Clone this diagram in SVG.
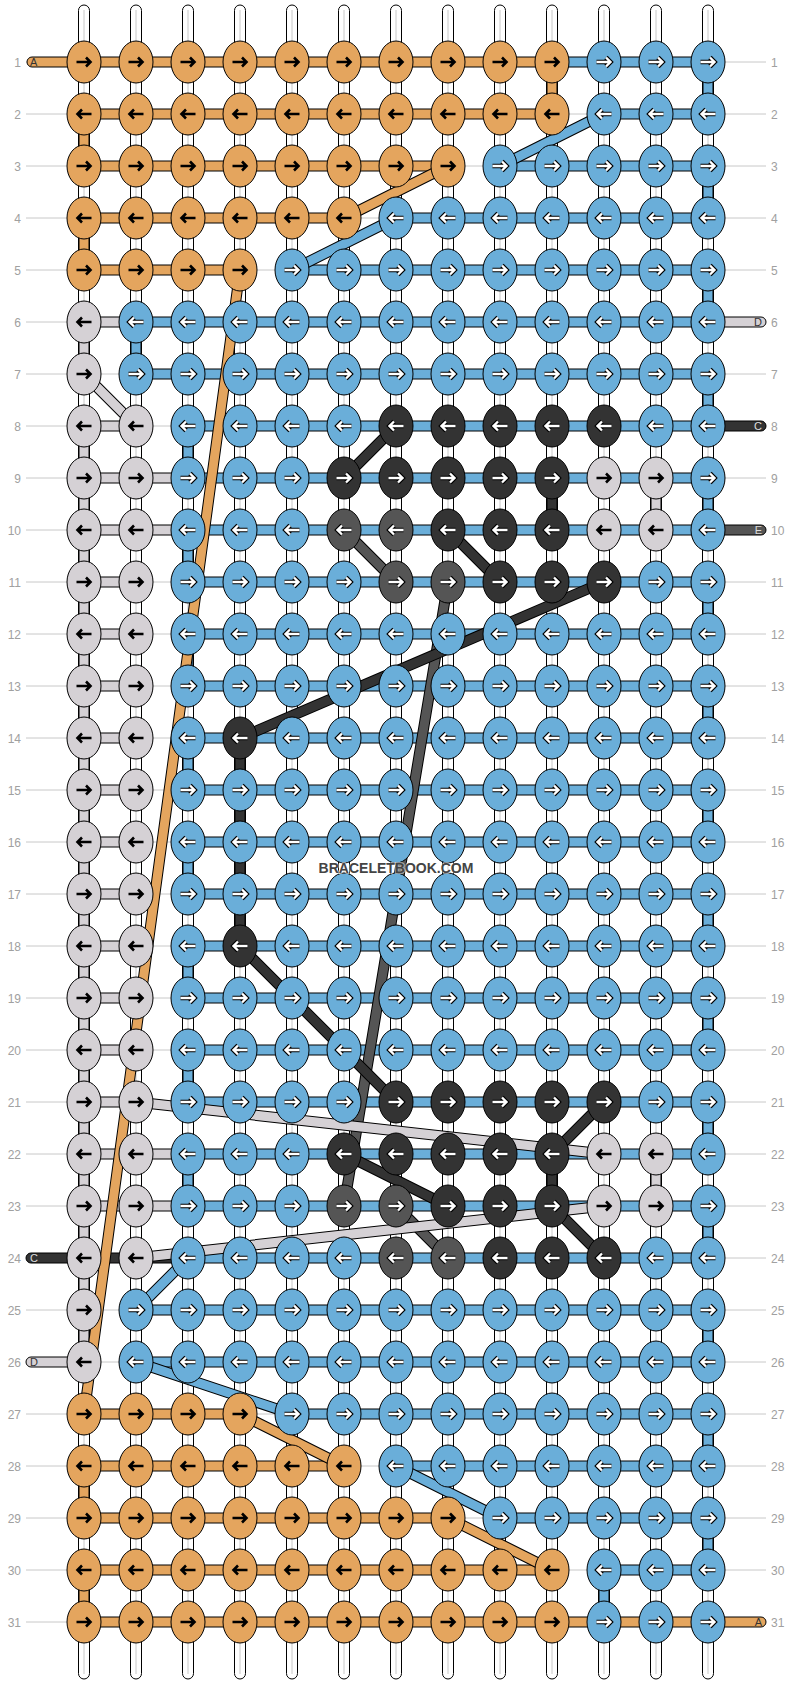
<svg xmlns="http://www.w3.org/2000/svg" xmlns:xlink="http://www.w3.org/1999/xlink" width="792" height="1684" viewBox="0 0 792 1684">
<style>
.w{fill:#fff;stroke:#000;stroke-width:1}
.wl{stroke:#c8c8c8;stroke-width:1}
.gl{stroke:#c8c8c8;stroke-width:1}
.lb{font-family:"Liberation Sans",Arial,sans-serif;font-size:12px;fill:#a0a0a0}
.sl{font-family:"Liberation Sans",Arial,sans-serif;font-size:11px}
.o{fill:#E4A55E}.b{fill:#6AAED9}.g{fill:#D5D1D5}.d{fill:#333}.m{fill:#555}
.s{stroke:#000;stroke-width:1}
.k{stroke:#000;stroke-width:11;fill:none}
.lo{stroke:#E4A55E;stroke-width:9;fill:none}.lbl{stroke:#6AAED9;stroke-width:9;fill:none}
.lg{stroke:#D5D1D5;stroke-width:9;fill:none}.ld{stroke:#333;stroke-width:9;fill:none}.lm{stroke:#555;stroke-width:9;fill:none}
</style>
<defs>
<path id="aR" d="M-7.5 0H6.5M2-4.5L6.5 0L2 4.5" fill="none"/>
<path id="aL" d="M7.5 0H-6.5M-2-4.5L-6.5 0L-2 4.5" fill="none"/>
<g id="kR"><use href="#aR" stroke="#000" stroke-width="2.6"/></g>
<g id="kL"><use href="#aL" stroke="#000" stroke-width="2.6"/></g>
<g id="wR"><use href="#aR" stroke="#000" stroke-width="4.6"/><use href="#aR" stroke="#fff" stroke-width="2.4"/></g>
<g id="wL"><use href="#aL" stroke="#000" stroke-width="4.6"/><use href="#aL" stroke="#fff" stroke-width="2.4"/></g>
<g id="oR"><ellipse rx="17" ry="21" class="o s"/><use href="#kR"/></g>
<g id="oL"><ellipse rx="17" ry="21" class="o s"/><use href="#kL"/></g>
<g id="gR"><ellipse rx="17" ry="21" class="g s"/><use href="#kR"/></g>
<g id="gL"><ellipse rx="17" ry="21" class="g s"/><use href="#kL"/></g>
<g id="bR"><ellipse rx="17" ry="21" class="b s"/><use href="#wR"/></g>
<g id="bL"><ellipse rx="17" ry="21" class="b s"/><use href="#wL"/></g>
<g id="dR"><ellipse rx="17" ry="21" class="d s"/><use href="#wR"/></g>
<g id="dL"><ellipse rx="17" ry="21" class="d s"/><use href="#wL"/></g>
<g id="mR"><ellipse rx="17" ry="21" class="m s"/><use href="#wR"/></g>
<g id="mL"><ellipse rx="17" ry="21" class="m s"/><use href="#wL"/></g>
</defs>
<rect width="792" height="1684" fill="#fff"/>
<g id="guides">
<line class="gl" x1="26" y1="62" x2="766" y2="62"/><line class="gl" x1="26" y1="114" x2="766" y2="114"/><line class="gl" x1="26" y1="166" x2="766" y2="166"/><line class="gl" x1="26" y1="218" x2="766" y2="218"/><line class="gl" x1="26" y1="270" x2="766" y2="270"/><line class="gl" x1="26" y1="322" x2="766" y2="322"/><line class="gl" x1="26" y1="374" x2="766" y2="374"/><line class="gl" x1="26" y1="426" x2="766" y2="426"/><line class="gl" x1="26" y1="478" x2="766" y2="478"/><line class="gl" x1="26" y1="530" x2="766" y2="530"/><line class="gl" x1="26" y1="582" x2="766" y2="582"/><line class="gl" x1="26" y1="634" x2="766" y2="634"/><line class="gl" x1="26" y1="686" x2="766" y2="686"/><line class="gl" x1="26" y1="738" x2="766" y2="738"/><line class="gl" x1="26" y1="790" x2="766" y2="790"/><line class="gl" x1="26" y1="842" x2="766" y2="842"/><line class="gl" x1="26" y1="894" x2="766" y2="894"/><line class="gl" x1="26" y1="946" x2="766" y2="946"/><line class="gl" x1="26" y1="998" x2="766" y2="998"/><line class="gl" x1="26" y1="1050" x2="766" y2="1050"/><line class="gl" x1="26" y1="1102" x2="766" y2="1102"/><line class="gl" x1="26" y1="1154" x2="766" y2="1154"/><line class="gl" x1="26" y1="1206" x2="766" y2="1206"/><line class="gl" x1="26" y1="1258" x2="766" y2="1258"/><line class="gl" x1="26" y1="1310" x2="766" y2="1310"/><line class="gl" x1="26" y1="1362" x2="766" y2="1362"/><line class="gl" x1="26" y1="1414" x2="766" y2="1414"/><line class="gl" x1="26" y1="1466" x2="766" y2="1466"/><line class="gl" x1="26" y1="1518" x2="766" y2="1518"/><line class="gl" x1="26" y1="1570" x2="766" y2="1570"/><line class="gl" x1="26" y1="1622" x2="766" y2="1622"/>
</g>
<g id="labels">
<text class="lb" text-anchor="end" x="21" y="66.5">1</text><text class="lb" text-anchor="end" x="21" y="118.5">2</text><text class="lb" text-anchor="end" x="21" y="170.5">3</text><text class="lb" text-anchor="end" x="21" y="222.5">4</text><text class="lb" text-anchor="end" x="21" y="274.5">5</text><text class="lb" text-anchor="end" x="21" y="326.5">6</text><text class="lb" text-anchor="end" x="21" y="378.5">7</text><text class="lb" text-anchor="end" x="21" y="430.5">8</text><text class="lb" text-anchor="end" x="21" y="482.5">9</text><text class="lb" text-anchor="end" x="21" y="534.5">10</text><text class="lb" text-anchor="end" x="21" y="586.5">11</text><text class="lb" text-anchor="end" x="21" y="638.5">12</text><text class="lb" text-anchor="end" x="21" y="690.5">13</text><text class="lb" text-anchor="end" x="21" y="742.5">14</text><text class="lb" text-anchor="end" x="21" y="794.5">15</text><text class="lb" text-anchor="end" x="21" y="846.5">16</text><text class="lb" text-anchor="end" x="21" y="898.5">17</text><text class="lb" text-anchor="end" x="21" y="950.5">18</text><text class="lb" text-anchor="end" x="21" y="1002.5">19</text><text class="lb" text-anchor="end" x="21" y="1054.5">20</text><text class="lb" text-anchor="end" x="21" y="1106.5">21</text><text class="lb" text-anchor="end" x="21" y="1158.5">22</text><text class="lb" text-anchor="end" x="21" y="1210.5">23</text><text class="lb" text-anchor="end" x="21" y="1262.5">24</text><text class="lb" text-anchor="end" x="21" y="1314.5">25</text><text class="lb" text-anchor="end" x="21" y="1366.5">26</text><text class="lb" text-anchor="end" x="21" y="1418.5">27</text><text class="lb" text-anchor="end" x="21" y="1470.5">28</text><text class="lb" text-anchor="end" x="21" y="1522.5">29</text><text class="lb" text-anchor="end" x="21" y="1574.5">30</text><text class="lb" text-anchor="end" x="21" y="1626.5">31</text>
<text class="lb" x="771" y="66.5">1</text><text class="lb" x="771" y="118.5">2</text><text class="lb" x="771" y="170.5">3</text><text class="lb" x="771" y="222.5">4</text><text class="lb" x="771" y="274.5">5</text><text class="lb" x="771" y="326.5">6</text><text class="lb" x="771" y="378.5">7</text><text class="lb" x="771" y="430.5">8</text><text class="lb" x="771" y="482.5">9</text><text class="lb" x="771" y="534.5">10</text><text class="lb" x="771" y="586.5">11</text><text class="lb" x="771" y="638.5">12</text><text class="lb" x="771" y="690.5">13</text><text class="lb" x="771" y="742.5">14</text><text class="lb" x="771" y="794.5">15</text><text class="lb" x="771" y="846.5">16</text><text class="lb" x="771" y="898.5">17</text><text class="lb" x="771" y="950.5">18</text><text class="lb" x="771" y="1002.5">19</text><text class="lb" x="771" y="1054.5">20</text><text class="lb" x="771" y="1106.5">21</text><text class="lb" x="771" y="1158.5">22</text><text class="lb" x="771" y="1210.5">23</text><text class="lb" x="771" y="1262.5">24</text><text class="lb" x="771" y="1314.5">25</text><text class="lb" x="771" y="1366.5">26</text><text class="lb" x="771" y="1418.5">27</text><text class="lb" x="771" y="1470.5">28</text><text class="lb" x="771" y="1522.5">29</text><text class="lb" x="771" y="1574.5">30</text><text class="lb" x="771" y="1626.5">31</text>
</g>
<g id="warps">
<rect class="w" x="78.5" y="5" width="11" height="1674" rx="5.5"/><line class="wl" x1="84" y1="10" x2="84" y2="1674"/>
<rect class="w" x="130.5" y="5" width="11" height="1674" rx="5.5"/><line class="wl" x1="136" y1="10" x2="136" y2="1674"/>
<rect class="w" x="182.5" y="5" width="11" height="1674" rx="5.5"/><line class="wl" x1="188" y1="10" x2="188" y2="1674"/>
<rect class="w" x="234.5" y="5" width="11" height="1674" rx="5.5"/><line class="wl" x1="240" y1="10" x2="240" y2="1674"/>
<rect class="w" x="286.5" y="5" width="11" height="1674" rx="5.5"/><line class="wl" x1="292" y1="10" x2="292" y2="1674"/>
<rect class="w" x="338.5" y="5" width="11" height="1674" rx="5.5"/><line class="wl" x1="344" y1="10" x2="344" y2="1674"/>
<rect class="w" x="390.5" y="5" width="11" height="1674" rx="5.5"/><line class="wl" x1="396" y1="10" x2="396" y2="1674"/>
<rect class="w" x="442.5" y="5" width="11" height="1674" rx="5.5"/><line class="wl" x1="448" y1="10" x2="448" y2="1674"/>
<rect class="w" x="494.5" y="5" width="11" height="1674" rx="5.5"/><line class="wl" x1="500" y1="10" x2="500" y2="1674"/>
<rect class="w" x="546.5" y="5" width="11" height="1674" rx="5.5"/><line class="wl" x1="552" y1="10" x2="552" y2="1674"/>
<rect class="w" x="598.5" y="5" width="11" height="1674" rx="5.5"/><line class="wl" x1="604" y1="10" x2="604" y2="1674"/>
<rect class="w" x="650.5" y="5" width="11" height="1674" rx="5.5"/><line class="wl" x1="656" y1="10" x2="656" y2="1674"/>
<rect class="w" x="702.5" y="5" width="11" height="1674" rx="5.5"/><line class="wl" x1="708" y1="10" x2="708" y2="1674"/>
</g>
<g id="connectors">
<g id="verticals">
<rect class="o s" x="79" y="114" width="10" height="52"/><rect class="o s" x="79" y="218" width="10" height="52"/><rect class="o s" x="79" y="1466" width="10" height="52"/><rect class="o s" x="79" y="1570" width="10" height="52"/><rect class="o s" x="547" y="62" width="10" height="52"/>
<rect class="b s" x="703" y="62" width="10" height="52"/><rect class="b s" x="703" y="166" width="10" height="52"/><rect class="b s" x="703" y="270" width="10" height="52"/><rect class="b s" x="703" y="374" width="10" height="52"/><rect class="b s" x="703" y="478" width="10" height="52"/><rect class="b s" x="703" y="582" width="10" height="52"/><rect class="b s" x="703" y="686" width="10" height="52"/><rect class="b s" x="703" y="790" width="10" height="52"/><rect class="b s" x="703" y="894" width="10" height="52"/><rect class="b s" x="703" y="998" width="10" height="52"/><rect class="b s" x="703" y="1102" width="10" height="52"/><rect class="b s" x="703" y="1206" width="10" height="52"/><rect class="b s" x="703" y="1310" width="10" height="52"/><rect class="b s" x="703" y="1414" width="10" height="52"/><rect class="b s" x="703" y="1518" width="10" height="52"/>
<rect class="b s" x="131" y="322" width="10" height="52"/>
<rect class="b s" x="183" y="426" width="10" height="52"/><rect class="b s" x="183" y="530" width="10" height="52"/><rect class="b s" x="183" y="634" width="10" height="52"/><rect class="b s" x="183" y="738" width="10" height="52"/><rect class="b s" x="183" y="842" width="10" height="52"/><rect class="b s" x="183" y="946" width="10" height="52"/><rect class="b s" x="183" y="1050" width="10" height="52"/><rect class="b s" x="183" y="1154" width="10" height="52"/>
<rect class="b s" x="599" y="1570" width="10" height="52"/>
<rect class="g s" x="79" y="322" width="10" height="52"/><rect class="g s" x="79" y="426" width="10" height="936"/>
<rect class="g s" x="651" y="478" width="10" height="52"/><rect class="g s" x="651" y="1154" width="10" height="52"/>
<rect class="d s" x="547" y="478" width="10" height="52"/><rect class="d s" x="235" y="738" width="10" height="208"/><rect class="d s" x="547" y="1154" width="10" height="52"/>
</g>
<g id="horizontals">
<rect class="o s" x="27" y="57" width="525" height="10" rx="5"/><rect class="b s" x="552" y="57" width="156" height="10"/>
<rect class="o s" x="84" y="109" width="468" height="10"/><rect class="b s" x="604" y="109" width="104" height="10"/>
<rect class="o s" x="84" y="161" width="364" height="10"/><rect class="b s" x="500" y="161" width="208" height="10"/>
<rect class="o s" x="84" y="213" width="260" height="10"/><rect class="b s" x="396" y="213" width="312" height="10"/>
<rect class="o s" x="84" y="265" width="156" height="10"/><rect class="b s" x="292" y="265" width="416" height="10"/>
<rect class="g s" x="84" y="317" width="52" height="10"/><rect class="b s" x="136" y="317" width="572" height="10"/><rect class="g s" x="700" y="317" width="66" height="10" rx="5"/>
<rect class="b s" x="136" y="369" width="572" height="10"/>
<rect class="g s" x="84" y="421" width="52" height="10"/><rect class="b s" x="188" y="421" width="520" height="10"/><rect class="d s" x="700" y="421" width="66" height="10" rx="5"/>
<rect class="g s" x="84" y="473" width="104" height="10"/><rect class="b s" x="188" y="473" width="520" height="10"/>
<rect class="g s" x="84" y="525" width="104" height="10"/><rect class="b s" x="188" y="525" width="520" height="10"/><rect class="m s" x="700" y="525" width="66" height="10" rx="5"/>
<rect class="g s" x="84" y="577" width="52" height="10"/><rect class="b s" x="188" y="577" width="520" height="10"/>
<rect class="g s" x="84" y="629" width="52" height="10"/><rect class="b s" x="188" y="629" width="520" height="10"/>
<rect class="g s" x="84" y="681" width="52" height="10"/><rect class="b s" x="188" y="681" width="520" height="10"/>
<rect class="g s" x="84" y="733" width="52" height="10"/><rect class="b s" x="188" y="733" width="520" height="10"/>
<rect class="g s" x="84" y="785" width="52" height="10"/><rect class="b s" x="188" y="785" width="520" height="10"/>
<rect class="g s" x="84" y="837" width="52" height="10"/><rect class="b s" x="188" y="837" width="520" height="10"/>
<rect class="g s" x="84" y="889" width="52" height="10"/><rect class="b s" x="188" y="889" width="520" height="10"/>
<rect class="g s" x="84" y="941" width="52" height="10"/><rect class="b s" x="188" y="941" width="520" height="10"/>
<rect class="g s" x="84" y="993" width="52" height="10"/><rect class="b s" x="188" y="993" width="520" height="10"/>
<rect class="g s" x="84" y="1045" width="52" height="10"/><rect class="b s" x="188" y="1045" width="520" height="10"/>
<rect class="g s" x="84" y="1097" width="52" height="10"/><rect class="b s" x="188" y="1097" width="520" height="10"/>
<rect class="g s" x="84" y="1149" width="104" height="10"/><rect class="b s" x="188" y="1149" width="520" height="10"/>
<rect class="g s" x="84" y="1201" width="104" height="10"/><rect class="b s" x="188" y="1201" width="520" height="10"/>
<rect class="d s" x="26" y="1253" width="162" height="10" rx="5"/><rect class="b s" x="188" y="1253" width="520" height="10"/>
<rect class="b s" x="136" y="1305" width="572" height="10"/>
<rect class="g s" x="26" y="1357" width="66" height="10" rx="5"/><rect class="b s" x="136" y="1357" width="572" height="10"/>
<rect class="o s" x="84" y="1409" width="156" height="10"/><rect class="b s" x="292" y="1409" width="416" height="10"/>
<rect class="o s" x="84" y="1461" width="260" height="10"/><rect class="b s" x="396" y="1461" width="312" height="10"/>
<rect class="o s" x="84" y="1513" width="364" height="10"/><rect class="b s" x="500" y="1513" width="208" height="10"/>
<rect class="o s" x="84" y="1565" width="468" height="10"/><rect class="b s" x="604" y="1565" width="104" height="10"/>
<rect class="o s" x="84" y="1617" width="682" height="10" rx="5"/>
</g>
<g id="diagonals">
<path class="k" d="M448 166L344 218M240 270L84 1414M240 1414L344 1466M448 1518L552 1570"/>
<path class="lo" d="M448 166L344 218M240 270L84 1414M240 1414L344 1466M448 1518L552 1570"/>
<path class="k" d="M604 114L500 166M396 218L292 270M188 1258L136 1310M136 1362L292 1414M396 1466L500 1518"/>
<path class="lbl" d="M604 114L500 166M396 218L292 270M188 1258L136 1310M136 1362L292 1414M396 1466L500 1518"/>
<path class="k" d="M344 530L396 582M448 582L344 1206M396 1206L448 1258"/>
<path class="lm" d="M344 530L396 582M448 582L344 1206M396 1206L448 1258"/>
<path class="k" d="M344 478L396 426M448 530L500 582M604 582L240 738M240 946L396 1102M344 1154L448 1206M604 1102L552 1154M552 1206L604 1258"/>
<path class="ld" d="M344 478L396 426M448 530L500 582M604 582L240 738M240 946L396 1102M344 1154L448 1206M604 1102L552 1154M552 1206L604 1258"/>
<path class="k" d="M84 374L136 426M136 1102L604 1154M136 1258L604 1206"/>
<path class="lg" d="M84 374L136 426M136 1102L604 1154M136 1258L604 1206"/>
</g>
<g id="stub-labels">
<text class="sl" x="30" y="66" fill="#333">A</text>
<text class="sl" x="762" y="1626" text-anchor="end" fill="#333">A</text>
<text class="sl" x="762" y="326" text-anchor="end" fill="#333">D</text>
<text class="sl" x="762" y="430" text-anchor="end" fill="#ddd">C</text>
<text class="sl" x="762" y="534" text-anchor="end" fill="#ddd">E</text>
<text class="sl" x="30" y="1262" fill="#ddd">C</text>
<text class="sl" x="30" y="1366" fill="#333">D</text>
</g>
</g>
<g id="nodes">
<g id="row1" transform="translate(0 62)"><g id="r1c1"><use href="#oR" x="84"/></g><g id="r1c2"><use href="#oR" x="136"/></g><g id="r1c3"><use href="#oR" x="188"/></g><g id="r1c4"><use href="#oR" x="240"/></g><g id="r1c5"><use href="#oR" x="292"/></g><g id="r1c6"><use href="#oR" x="344"/></g><g id="r1c7"><use href="#oR" x="396"/></g><g id="r1c8"><use href="#oR" x="448"/></g><g id="r1c9"><use href="#oR" x="500"/></g><g id="r1c10"><use href="#oR" x="552"/></g><g id="r1c11"><use href="#bR" x="604"/></g><g id="r1c12"><use href="#bR" x="656"/></g><g id="r1c13"><use href="#bR" x="708"/></g></g>
<g id="row2" transform="translate(0 114)"><g id="r2c1"><use href="#oL" x="84"/></g><g id="r2c2"><use href="#oL" x="136"/></g><g id="r2c3"><use href="#oL" x="188"/></g><g id="r2c4"><use href="#oL" x="240"/></g><g id="r2c5"><use href="#oL" x="292"/></g><g id="r2c6"><use href="#oL" x="344"/></g><g id="r2c7"><use href="#oL" x="396"/></g><g id="r2c8"><use href="#oL" x="448"/></g><g id="r2c9"><use href="#oL" x="500"/></g><g id="r2c10"><use href="#oL" x="552"/></g><g id="r2c11"><use href="#bL" x="604"/></g><g id="r2c12"><use href="#bL" x="656"/></g><g id="r2c13"><use href="#bL" x="708"/></g></g>
<g id="row3" transform="translate(0 166)"><g id="r3c1"><use href="#oR" x="84"/></g><g id="r3c2"><use href="#oR" x="136"/></g><g id="r3c3"><use href="#oR" x="188"/></g><g id="r3c4"><use href="#oR" x="240"/></g><g id="r3c5"><use href="#oR" x="292"/></g><g id="r3c6"><use href="#oR" x="344"/></g><g id="r3c7"><use href="#oR" x="396"/></g><g id="r3c8"><use href="#oR" x="448"/></g><g id="r3c9"><use href="#bR" x="500"/></g><g id="r3c10"><use href="#bR" x="552"/></g><g id="r3c11"><use href="#bR" x="604"/></g><g id="r3c12"><use href="#bR" x="656"/></g><g id="r3c13"><use href="#bR" x="708"/></g></g>
<g id="row4" transform="translate(0 218)"><g id="r4c1"><use href="#oL" x="84"/></g><g id="r4c2"><use href="#oL" x="136"/></g><g id="r4c3"><use href="#oL" x="188"/></g><g id="r4c4"><use href="#oL" x="240"/></g><g id="r4c5"><use href="#oL" x="292"/></g><g id="r4c6"><use href="#oL" x="344"/></g><g id="r4c7"><use href="#bL" x="396"/></g><g id="r4c8"><use href="#bL" x="448"/></g><g id="r4c9"><use href="#bL" x="500"/></g><g id="r4c10"><use href="#bL" x="552"/></g><g id="r4c11"><use href="#bL" x="604"/></g><g id="r4c12"><use href="#bL" x="656"/></g><g id="r4c13"><use href="#bL" x="708"/></g></g>
<g id="row5" transform="translate(0 270)"><g id="r5c1"><use href="#oR" x="84"/></g><g id="r5c2"><use href="#oR" x="136"/></g><g id="r5c3"><use href="#oR" x="188"/></g><g id="r5c4"><use href="#oR" x="240"/></g><g id="r5c5"><use href="#bR" x="292"/></g><g id="r5c6"><use href="#bR" x="344"/></g><g id="r5c7"><use href="#bR" x="396"/></g><g id="r5c8"><use href="#bR" x="448"/></g><g id="r5c9"><use href="#bR" x="500"/></g><g id="r5c10"><use href="#bR" x="552"/></g><g id="r5c11"><use href="#bR" x="604"/></g><g id="r5c12"><use href="#bR" x="656"/></g><g id="r5c13"><use href="#bR" x="708"/></g></g>
<g id="row6" transform="translate(0 322)"><g id="r6c1"><use href="#gL" x="84"/></g><g id="r6c2"><use href="#bL" x="136"/></g><g id="r6c3"><use href="#bL" x="188"/></g><g id="r6c4"><use href="#bL" x="240"/></g><g id="r6c5"><use href="#bL" x="292"/></g><g id="r6c6"><use href="#bL" x="344"/></g><g id="r6c7"><use href="#bL" x="396"/></g><g id="r6c8"><use href="#bL" x="448"/></g><g id="r6c9"><use href="#bL" x="500"/></g><g id="r6c10"><use href="#bL" x="552"/></g><g id="r6c11"><use href="#bL" x="604"/></g><g id="r6c12"><use href="#bL" x="656"/></g><g id="r6c13"><use href="#bL" x="708"/></g></g>
<g id="row7" transform="translate(0 374)"><g id="r7c1"><use href="#gR" x="84"/></g><g id="r7c2"><use href="#bR" x="136"/></g><g id="r7c3"><use href="#bR" x="188"/></g><g id="r7c4"><use href="#bR" x="240"/></g><g id="r7c5"><use href="#bR" x="292"/></g><g id="r7c6"><use href="#bR" x="344"/></g><g id="r7c7"><use href="#bR" x="396"/></g><g id="r7c8"><use href="#bR" x="448"/></g><g id="r7c9"><use href="#bR" x="500"/></g><g id="r7c10"><use href="#bR" x="552"/></g><g id="r7c11"><use href="#bR" x="604"/></g><g id="r7c12"><use href="#bR" x="656"/></g><g id="r7c13"><use href="#bR" x="708"/></g></g>
<g id="row8" transform="translate(0 426)"><g id="r8c1"><use href="#gL" x="84"/></g><g id="r8c2"><use href="#gL" x="136"/></g><g id="r8c3"><use href="#bL" x="188"/></g><g id="r8c4"><use href="#bL" x="240"/></g><g id="r8c5"><use href="#bL" x="292"/></g><g id="r8c6"><use href="#bL" x="344"/></g><g id="r8c7"><use href="#dL" x="396"/></g><g id="r8c8"><use href="#dL" x="448"/></g><g id="r8c9"><use href="#dL" x="500"/></g><g id="r8c10"><use href="#dL" x="552"/></g><g id="r8c11"><use href="#dL" x="604"/></g><g id="r8c12"><use href="#bL" x="656"/></g><g id="r8c13"><use href="#bL" x="708"/></g></g>
<g id="row9" transform="translate(0 478)"><g id="r9c1"><use href="#gR" x="84"/></g><g id="r9c2"><use href="#gR" x="136"/></g><g id="r9c3"><use href="#bR" x="188"/></g><g id="r9c4"><use href="#bR" x="240"/></g><g id="r9c5"><use href="#bR" x="292"/></g><g id="r9c6"><use href="#dR" x="344"/></g><g id="r9c7"><use href="#dR" x="396"/></g><g id="r9c8"><use href="#dR" x="448"/></g><g id="r9c9"><use href="#dR" x="500"/></g><g id="r9c10"><use href="#dR" x="552"/></g><g id="r9c11"><use href="#gR" x="604"/></g><g id="r9c12"><use href="#gR" x="656"/></g><g id="r9c13"><use href="#bR" x="708"/></g></g>
<g id="row10" transform="translate(0 530)"><g id="r10c1"><use href="#gL" x="84"/></g><g id="r10c2"><use href="#gL" x="136"/></g><g id="r10c3"><use href="#bL" x="188"/></g><g id="r10c4"><use href="#bL" x="240"/></g><g id="r10c5"><use href="#bL" x="292"/></g><g id="r10c6"><use href="#mL" x="344"/></g><g id="r10c7"><use href="#mL" x="396"/></g><g id="r10c8"><use href="#dL" x="448"/></g><g id="r10c9"><use href="#dL" x="500"/></g><g id="r10c10"><use href="#dL" x="552"/></g><g id="r10c11"><use href="#gL" x="604"/></g><g id="r10c12"><use href="#gL" x="656"/></g><g id="r10c13"><use href="#bL" x="708"/></g></g>
<g id="row11" transform="translate(0 582)"><g id="r11c1"><use href="#gR" x="84"/></g><g id="r11c2"><use href="#gR" x="136"/></g><g id="r11c3"><use href="#bR" x="188"/></g><g id="r11c4"><use href="#bR" x="240"/></g><g id="r11c5"><use href="#bR" x="292"/></g><g id="r11c6"><use href="#bR" x="344"/></g><g id="r11c7"><use href="#mR" x="396"/></g><g id="r11c8"><use href="#mR" x="448"/></g><g id="r11c9"><use href="#dR" x="500"/></g><g id="r11c10"><use href="#dR" x="552"/></g><g id="r11c11"><use href="#dR" x="604"/></g><g id="r11c12"><use href="#bR" x="656"/></g><g id="r11c13"><use href="#bR" x="708"/></g></g>
<g id="row12" transform="translate(0 634)"><g id="r12c1"><use href="#gL" x="84"/></g><g id="r12c2"><use href="#gL" x="136"/></g><g id="r12c3"><use href="#bL" x="188"/></g><g id="r12c4"><use href="#bL" x="240"/></g><g id="r12c5"><use href="#bL" x="292"/></g><g id="r12c6"><use href="#bL" x="344"/></g><g id="r12c7"><use href="#bL" x="396"/></g><g id="r12c8"><use href="#bL" x="448"/></g><g id="r12c9"><use href="#bL" x="500"/></g><g id="r12c10"><use href="#bL" x="552"/></g><g id="r12c11"><use href="#bL" x="604"/></g><g id="r12c12"><use href="#bL" x="656"/></g><g id="r12c13"><use href="#bL" x="708"/></g></g>
<g id="row13" transform="translate(0 686)"><g id="r13c1"><use href="#gR" x="84"/></g><g id="r13c2"><use href="#gR" x="136"/></g><g id="r13c3"><use href="#bR" x="188"/></g><g id="r13c4"><use href="#bR" x="240"/></g><g id="r13c5"><use href="#bR" x="292"/></g><g id="r13c6"><use href="#bR" x="344"/></g><g id="r13c7"><use href="#bR" x="396"/></g><g id="r13c8"><use href="#bR" x="448"/></g><g id="r13c9"><use href="#bR" x="500"/></g><g id="r13c10"><use href="#bR" x="552"/></g><g id="r13c11"><use href="#bR" x="604"/></g><g id="r13c12"><use href="#bR" x="656"/></g><g id="r13c13"><use href="#bR" x="708"/></g></g>
<g id="row14" transform="translate(0 738)"><g id="r14c1"><use href="#gL" x="84"/></g><g id="r14c2"><use href="#gL" x="136"/></g><g id="r14c3"><use href="#bL" x="188"/></g><g id="r14c4"><use href="#dL" x="240"/></g><g id="r14c5"><use href="#bL" x="292"/></g><g id="r14c6"><use href="#bL" x="344"/></g><g id="r14c7"><use href="#bL" x="396"/></g><g id="r14c8"><use href="#bL" x="448"/></g><g id="r14c9"><use href="#bL" x="500"/></g><g id="r14c10"><use href="#bL" x="552"/></g><g id="r14c11"><use href="#bL" x="604"/></g><g id="r14c12"><use href="#bL" x="656"/></g><g id="r14c13"><use href="#bL" x="708"/></g></g>
<g id="row15" transform="translate(0 790)"><g id="r15c1"><use href="#gR" x="84"/></g><g id="r15c2"><use href="#gR" x="136"/></g><g id="r15c3"><use href="#bR" x="188"/></g><g id="r15c4"><use href="#bR" x="240"/></g><g id="r15c5"><use href="#bR" x="292"/></g><g id="r15c6"><use href="#bR" x="344"/></g><g id="r15c7"><use href="#bR" x="396"/></g><g id="r15c8"><use href="#bR" x="448"/></g><g id="r15c9"><use href="#bR" x="500"/></g><g id="r15c10"><use href="#bR" x="552"/></g><g id="r15c11"><use href="#bR" x="604"/></g><g id="r15c12"><use href="#bR" x="656"/></g><g id="r15c13"><use href="#bR" x="708"/></g></g>
<g id="row16" transform="translate(0 842)"><g id="r16c1"><use href="#gL" x="84"/></g><g id="r16c2"><use href="#gL" x="136"/></g><g id="r16c3"><use href="#bL" x="188"/></g><g id="r16c4"><use href="#bL" x="240"/></g><g id="r16c5"><use href="#bL" x="292"/></g><g id="r16c6"><use href="#bL" x="344"/></g><g id="r16c7"><use href="#bL" x="396"/></g><g id="r16c8"><use href="#bL" x="448"/></g><g id="r16c9"><use href="#bL" x="500"/></g><g id="r16c10"><use href="#bL" x="552"/></g><g id="r16c11"><use href="#bL" x="604"/></g><g id="r16c12"><use href="#bL" x="656"/></g><g id="r16c13"><use href="#bL" x="708"/></g></g>
<g id="row17" transform="translate(0 894)"><g id="r17c1"><use href="#gR" x="84"/></g><g id="r17c2"><use href="#gR" x="136"/></g><g id="r17c3"><use href="#bR" x="188"/></g><g id="r17c4"><use href="#bR" x="240"/></g><g id="r17c5"><use href="#bR" x="292"/></g><g id="r17c6"><use href="#bR" x="344"/></g><g id="r17c7"><use href="#bR" x="396"/></g><g id="r17c8"><use href="#bR" x="448"/></g><g id="r17c9"><use href="#bR" x="500"/></g><g id="r17c10"><use href="#bR" x="552"/></g><g id="r17c11"><use href="#bR" x="604"/></g><g id="r17c12"><use href="#bR" x="656"/></g><g id="r17c13"><use href="#bR" x="708"/></g></g>
<g id="row18" transform="translate(0 946)"><g id="r18c1"><use href="#gL" x="84"/></g><g id="r18c2"><use href="#gL" x="136"/></g><g id="r18c3"><use href="#bL" x="188"/></g><g id="r18c4"><use href="#dL" x="240"/></g><g id="r18c5"><use href="#bL" x="292"/></g><g id="r18c6"><use href="#bL" x="344"/></g><g id="r18c7"><use href="#bL" x="396"/></g><g id="r18c8"><use href="#bL" x="448"/></g><g id="r18c9"><use href="#bL" x="500"/></g><g id="r18c10"><use href="#bL" x="552"/></g><g id="r18c11"><use href="#bL" x="604"/></g><g id="r18c12"><use href="#bL" x="656"/></g><g id="r18c13"><use href="#bL" x="708"/></g></g>
<g id="row19" transform="translate(0 998)"><g id="r19c1"><use href="#gR" x="84"/></g><g id="r19c2"><use href="#gR" x="136"/></g><g id="r19c3"><use href="#bR" x="188"/></g><g id="r19c4"><use href="#bR" x="240"/></g><g id="r19c5"><use href="#bR" x="292"/></g><g id="r19c6"><use href="#bR" x="344"/></g><g id="r19c7"><use href="#bR" x="396"/></g><g id="r19c8"><use href="#bR" x="448"/></g><g id="r19c9"><use href="#bR" x="500"/></g><g id="r19c10"><use href="#bR" x="552"/></g><g id="r19c11"><use href="#bR" x="604"/></g><g id="r19c12"><use href="#bR" x="656"/></g><g id="r19c13"><use href="#bR" x="708"/></g></g>
<g id="row20" transform="translate(0 1050)"><g id="r20c1"><use href="#gL" x="84"/></g><g id="r20c2"><use href="#gL" x="136"/></g><g id="r20c3"><use href="#bL" x="188"/></g><g id="r20c4"><use href="#bL" x="240"/></g><g id="r20c5"><use href="#bL" x="292"/></g><g id="r20c6"><use href="#bL" x="344"/></g><g id="r20c7"><use href="#bL" x="396"/></g><g id="r20c8"><use href="#bL" x="448"/></g><g id="r20c9"><use href="#bL" x="500"/></g><g id="r20c10"><use href="#bL" x="552"/></g><g id="r20c11"><use href="#bL" x="604"/></g><g id="r20c12"><use href="#bL" x="656"/></g><g id="r20c13"><use href="#bL" x="708"/></g></g>
<g id="row21" transform="translate(0 1102)"><g id="r21c1"><use href="#gR" x="84"/></g><g id="r21c2"><use href="#gR" x="136"/></g><g id="r21c3"><use href="#bR" x="188"/></g><g id="r21c4"><use href="#bR" x="240"/></g><g id="r21c5"><use href="#bR" x="292"/></g><g id="r21c6"><use href="#bR" x="344"/></g><g id="r21c7"><use href="#dR" x="396"/></g><g id="r21c8"><use href="#dR" x="448"/></g><g id="r21c9"><use href="#dR" x="500"/></g><g id="r21c10"><use href="#dR" x="552"/></g><g id="r21c11"><use href="#dR" x="604"/></g><g id="r21c12"><use href="#bR" x="656"/></g><g id="r21c13"><use href="#bR" x="708"/></g></g>
<g id="row22" transform="translate(0 1154)"><g id="r22c1"><use href="#gL" x="84"/></g><g id="r22c2"><use href="#gL" x="136"/></g><g id="r22c3"><use href="#bL" x="188"/></g><g id="r22c4"><use href="#bL" x="240"/></g><g id="r22c5"><use href="#bL" x="292"/></g><g id="r22c6"><use href="#dL" x="344"/></g><g id="r22c7"><use href="#dL" x="396"/></g><g id="r22c8"><use href="#dL" x="448"/></g><g id="r22c9"><use href="#dL" x="500"/></g><g id="r22c10"><use href="#dL" x="552"/></g><g id="r22c11"><use href="#gL" x="604"/></g><g id="r22c12"><use href="#gL" x="656"/></g><g id="r22c13"><use href="#bL" x="708"/></g></g>
<g id="row23" transform="translate(0 1206)"><g id="r23c1"><use href="#gR" x="84"/></g><g id="r23c2"><use href="#gR" x="136"/></g><g id="r23c3"><use href="#bR" x="188"/></g><g id="r23c4"><use href="#bR" x="240"/></g><g id="r23c5"><use href="#bR" x="292"/></g><g id="r23c6"><use href="#mR" x="344"/></g><g id="r23c7"><use href="#mR" x="396"/></g><g id="r23c8"><use href="#dR" x="448"/></g><g id="r23c9"><use href="#dR" x="500"/></g><g id="r23c10"><use href="#dR" x="552"/></g><g id="r23c11"><use href="#gR" x="604"/></g><g id="r23c12"><use href="#gR" x="656"/></g><g id="r23c13"><use href="#bR" x="708"/></g></g>
<g id="row24" transform="translate(0 1258)"><g id="r24c1"><use href="#gL" x="84"/></g><g id="r24c2"><use href="#gL" x="136"/></g><g id="r24c3"><use href="#bL" x="188"/></g><g id="r24c4"><use href="#bL" x="240"/></g><g id="r24c5"><use href="#bL" x="292"/></g><g id="r24c6"><use href="#bL" x="344"/></g><g id="r24c7"><use href="#mL" x="396"/></g><g id="r24c8"><use href="#mL" x="448"/></g><g id="r24c9"><use href="#dL" x="500"/></g><g id="r24c10"><use href="#dL" x="552"/></g><g id="r24c11"><use href="#dL" x="604"/></g><g id="r24c12"><use href="#bL" x="656"/></g><g id="r24c13"><use href="#bL" x="708"/></g></g>
<g id="row25" transform="translate(0 1310)"><g id="r25c1"><use href="#gR" x="84"/></g><g id="r25c2"><use href="#bR" x="136"/></g><g id="r25c3"><use href="#bR" x="188"/></g><g id="r25c4"><use href="#bR" x="240"/></g><g id="r25c5"><use href="#bR" x="292"/></g><g id="r25c6"><use href="#bR" x="344"/></g><g id="r25c7"><use href="#bR" x="396"/></g><g id="r25c8"><use href="#bR" x="448"/></g><g id="r25c9"><use href="#bR" x="500"/></g><g id="r25c10"><use href="#bR" x="552"/></g><g id="r25c11"><use href="#bR" x="604"/></g><g id="r25c12"><use href="#bR" x="656"/></g><g id="r25c13"><use href="#bR" x="708"/></g></g>
<g id="row26" transform="translate(0 1362)"><g id="r26c1"><use href="#gL" x="84"/></g><g id="r26c2"><use href="#bL" x="136"/></g><g id="r26c3"><use href="#bL" x="188"/></g><g id="r26c4"><use href="#bL" x="240"/></g><g id="r26c5"><use href="#bL" x="292"/></g><g id="r26c6"><use href="#bL" x="344"/></g><g id="r26c7"><use href="#bL" x="396"/></g><g id="r26c8"><use href="#bL" x="448"/></g><g id="r26c9"><use href="#bL" x="500"/></g><g id="r26c10"><use href="#bL" x="552"/></g><g id="r26c11"><use href="#bL" x="604"/></g><g id="r26c12"><use href="#bL" x="656"/></g><g id="r26c13"><use href="#bL" x="708"/></g></g>
<g id="row27" transform="translate(0 1414)"><g id="r27c1"><use href="#oR" x="84"/></g><g id="r27c2"><use href="#oR" x="136"/></g><g id="r27c3"><use href="#oR" x="188"/></g><g id="r27c4"><use href="#oR" x="240"/></g><g id="r27c5"><use href="#bR" x="292"/></g><g id="r27c6"><use href="#bR" x="344"/></g><g id="r27c7"><use href="#bR" x="396"/></g><g id="r27c8"><use href="#bR" x="448"/></g><g id="r27c9"><use href="#bR" x="500"/></g><g id="r27c10"><use href="#bR" x="552"/></g><g id="r27c11"><use href="#bR" x="604"/></g><g id="r27c12"><use href="#bR" x="656"/></g><g id="r27c13"><use href="#bR" x="708"/></g></g>
<g id="row28" transform="translate(0 1466)"><g id="r28c1"><use href="#oL" x="84"/></g><g id="r28c2"><use href="#oL" x="136"/></g><g id="r28c3"><use href="#oL" x="188"/></g><g id="r28c4"><use href="#oL" x="240"/></g><g id="r28c5"><use href="#oL" x="292"/></g><g id="r28c6"><use href="#oL" x="344"/></g><g id="r28c7"><use href="#bL" x="396"/></g><g id="r28c8"><use href="#bL" x="448"/></g><g id="r28c9"><use href="#bL" x="500"/></g><g id="r28c10"><use href="#bL" x="552"/></g><g id="r28c11"><use href="#bL" x="604"/></g><g id="r28c12"><use href="#bL" x="656"/></g><g id="r28c13"><use href="#bL" x="708"/></g></g>
<g id="row29" transform="translate(0 1518)"><g id="r29c1"><use href="#oR" x="84"/></g><g id="r29c2"><use href="#oR" x="136"/></g><g id="r29c3"><use href="#oR" x="188"/></g><g id="r29c4"><use href="#oR" x="240"/></g><g id="r29c5"><use href="#oR" x="292"/></g><g id="r29c6"><use href="#oR" x="344"/></g><g id="r29c7"><use href="#oR" x="396"/></g><g id="r29c8"><use href="#oR" x="448"/></g><g id="r29c9"><use href="#bR" x="500"/></g><g id="r29c10"><use href="#bR" x="552"/></g><g id="r29c11"><use href="#bR" x="604"/></g><g id="r29c12"><use href="#bR" x="656"/></g><g id="r29c13"><use href="#bR" x="708"/></g></g>
<g id="row30" transform="translate(0 1570)"><g id="r30c1"><use href="#oL" x="84"/></g><g id="r30c2"><use href="#oL" x="136"/></g><g id="r30c3"><use href="#oL" x="188"/></g><g id="r30c4"><use href="#oL" x="240"/></g><g id="r30c5"><use href="#oL" x="292"/></g><g id="r30c6"><use href="#oL" x="344"/></g><g id="r30c7"><use href="#oL" x="396"/></g><g id="r30c8"><use href="#oL" x="448"/></g><g id="r30c9"><use href="#oL" x="500"/></g><g id="r30c10"><use href="#oL" x="552"/></g><g id="r30c11"><use href="#bL" x="604"/></g><g id="r30c12"><use href="#bL" x="656"/></g><g id="r30c13"><use href="#bL" x="708"/></g></g>
<g id="row31" transform="translate(0 1622)"><g id="r31c1"><use href="#oR" x="84"/></g><g id="r31c2"><use href="#oR" x="136"/></g><g id="r31c3"><use href="#oR" x="188"/></g><g id="r31c4"><use href="#oR" x="240"/></g><g id="r31c5"><use href="#oR" x="292"/></g><g id="r31c6"><use href="#oR" x="344"/></g><g id="r31c7"><use href="#oR" x="396"/></g><g id="r31c8"><use href="#oR" x="448"/></g><g id="r31c9"><use href="#oR" x="500"/></g><g id="r31c10"><use href="#oR" x="552"/></g><g id="r31c11"><use href="#bR" x="604"/></g><g id="r31c12"><use href="#bR" x="656"/></g><g id="r31c13"><use href="#bR" x="708"/></g></g>
</g>
<text id="watermark" x="396" y="873" text-anchor="middle" font-family="'Liberation Sans',Arial,sans-serif" font-weight="bold" font-size="14" fill="#444" stroke="#fff" stroke-opacity="0.5" stroke-width="2" paint-order="stroke">BRACELETBOOK.COM</text>
</svg>
